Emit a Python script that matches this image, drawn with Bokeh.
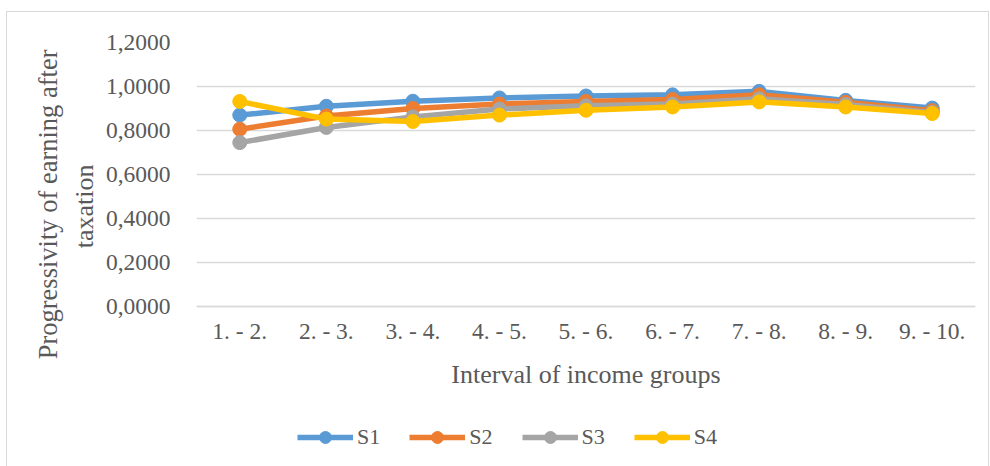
from bokeh.plotting import figure
from bokeh.models import FixedTicker, Legend, LegendItem, Title
from bokeh.embed import file_html
from bokeh.resources import INLINE

categories = ["1. - 2.", "2. - 3.", "3. - 4.", "4. - 5.", "5. - 6.", "6. - 7.", "7. - 8.", "8. - 9.", "9. - 10."]
s1 = [0.870, 0.910, 0.933, 0.948, 0.957, 0.962, 0.978, 0.937, 0.902]
s2 = [0.806, 0.866, 0.900, 0.920, 0.932, 0.941, 0.962, 0.928, 0.890]
s3 = [0.745, 0.814, 0.862, 0.898, 0.912, 0.920, 0.944, 0.918, 0.882]
s4 = [0.932, 0.852, 0.841, 0.870, 0.892, 0.907, 0.930, 0.907, 0.877]
series_names = ["S1", "S2", "S3", "S4"]
series_colors = ["#5B9BD5", "#ED7D31", "#A5A5A5", "#FFC000"]
y_ticks = [0.0, 0.2, 0.4, 0.6, 0.8, 1.0, 1.2]
y_tick_labels = ["0,0000", "0,2000", "0,4000", "0,6000", "0,8000", "1,0000", "1,2000"]
y_title_lines = ["Progressivity of earning after", "taxation"]

FONT = "Liberation Serif"
TXT = "#595959"

# frame spans from the top of the plot area to the bottom of the chart box;
# the category axis sits at y = 0 and the legend sits under it inside the frame
p = figure(x_range=categories, y_range=(-0.727, 1.2), width=981, height=454,
           output_backend="svg", toolbar_location=None,
           min_border_left=189, min_border_right=13, min_border_top=30, min_border_bottom=0)
p.outline_line_color = None
p.border_fill_color = "white"
p.styles = {"margin-left": "7px", "margin-top": "12px", "outline": "1px solid #D9D9D9"}

p.xgrid.grid_line_color = None
p.ygrid.grid_line_color = "#D9D9D9"
p.ygrid.grid_line_width = 1.5
p.yaxis.ticker = FixedTicker(ticks=y_ticks)
p.yaxis.major_label_overrides = {t: l for t, l in zip(y_ticks, y_tick_labels)}

for ax in (p.xaxis[0], p.yaxis[0]):
    ax.major_tick_line_color = None
    ax.minor_tick_line_color = None
    ax.major_label_text_font = FONT
    ax.major_label_text_font_size = "23.5px"
    ax.major_label_text_color = TXT
    ax.axis_label_text_font = FONT
    ax.axis_label_text_font_size = "26px"
    ax.axis_label_text_font_style = "normal"
    ax.axis_label_text_color = TXT

p.yaxis.axis_line_color = None
p.yaxis.major_label_standoff = 20
p.xaxis.fixed_location = 0
p.xaxis.axis_line_color = "#D9D9D9"
p.xaxis.axis_line_width = 1.5
p.xaxis.major_label_standoff = 5
p.xaxis.axis_label = "Interval of income groups"
p.xaxis.axis_label_standoff = 13

# y-axis title: two lines, each positioned from the top of the plot area
t_inner = Title(text=y_title_lines[1], align="right", offset=122,
                text_font=FONT, text_font_size="26px", text_font_style="normal",
                text_color=TXT, standoff=8)
t_outer = Title(text=y_title_lines[0], align="right", offset=7,
                text_font=FONT, text_font_size="26.5px", text_font_style="normal",
                text_color=TXT, standoff=2)
p.add_layout(t_inner, "left")
p.add_layout(t_outer, "left")

items = []
for name, ys, col in zip(series_names, [s1, s2, s3, s4], series_colors):
    ln = p.line(categories, ys, line_color=col, line_width=5.5)
    sc = p.scatter(categories, ys, size=14, fill_color=col, line_color=col)
    items.append(LegendItem(label=name, renderers=[ln, sc]))

legend = Legend(items=items, orientation="horizontal", location=(101, 14),
                label_text_font=FONT, label_text_font_size="22px", label_text_color=TXT,
                glyph_width=56, glyph_height=30, label_standoff=4, spacing=29,
                border_line_color=None, background_fill_alpha=0, padding=0, margin=0)
p.add_layout(legend, "center")

open("out.html", "w").write(file_html(p, INLINE))
